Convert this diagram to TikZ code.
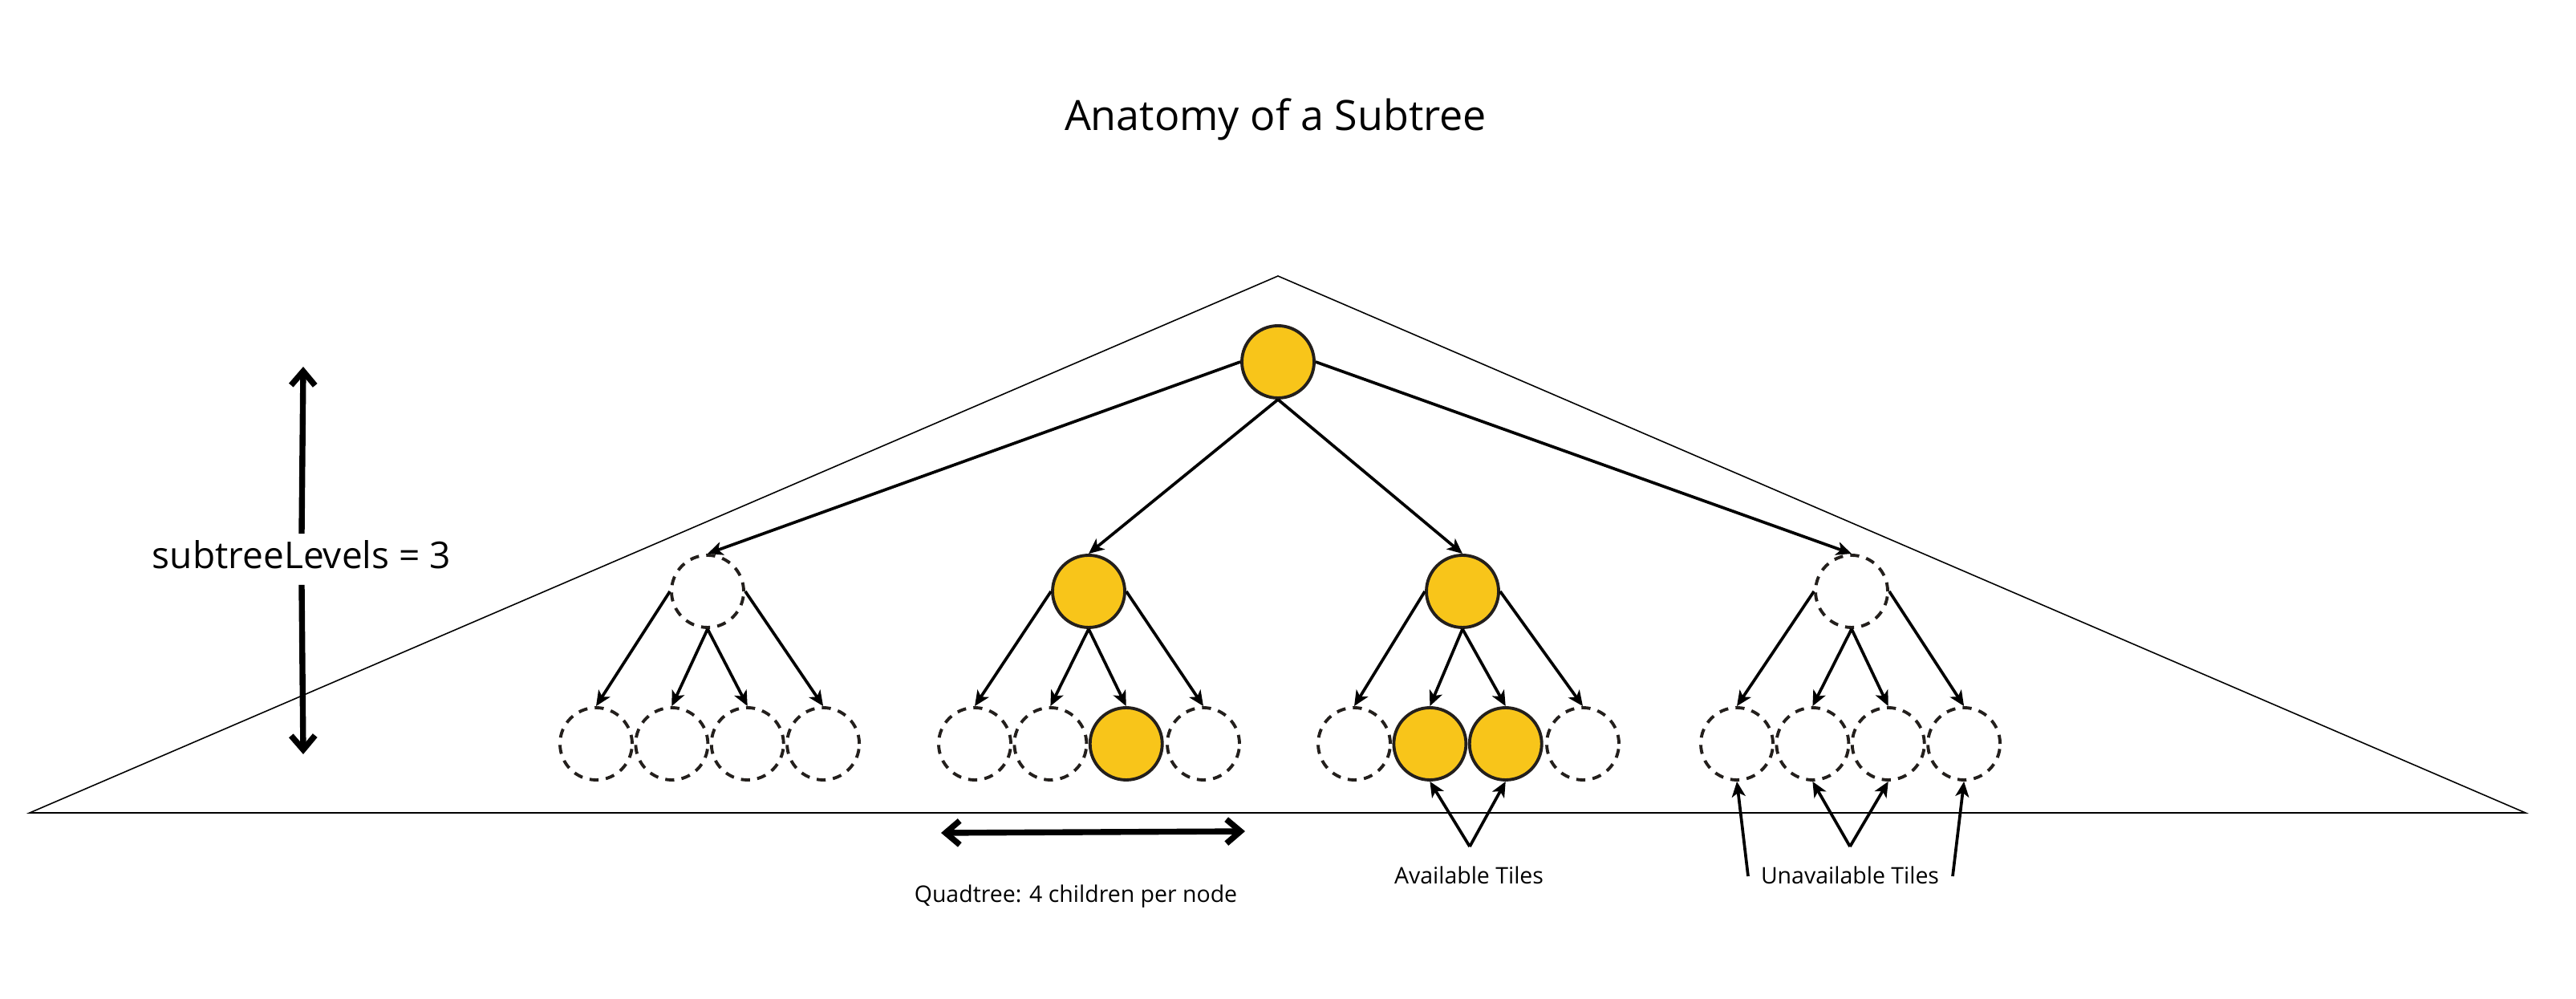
\documentclass[tikz,border=0pt]{standalone}
\usepackage{fontspec}
\setmainfont{Open Sans}
\usetikzlibrary{arrows.meta,positioning}
\definecolor{tileyellow}{HTML}{F8C51A}
\definecolor{tileline}{HTML}{231F1C}

\begin{document}
\begin{tikzpicture}[->, >={Stealth[length=5.4pt,width=4.8pt,inset=1.4pt]}, line width=1.05pt, node distance=0.005cm]
\tikzstyle{tile}=[circle,draw=tileline,fill=tileyellow,line width=1.1pt,minimum size=0.9cm,inner sep=0pt]
\tikzstyle{empty}=[circle,draw=tileline,dash pattern=on 3.2pt off 2.6pt,line width=1.1pt,minimum size=0.9cm,inner sep=0pt]
\tikzstyle{dimline}=[line width=2.1pt,line join=miter]
\tikzstyle{tilenote}=[font=\fontsize{8.1}{10}\selectfont,anchor=base,inner sep=0pt]
\useasboundingbox (0,0) rectangle (32.11,12.45);

% subtree outline
\draw[-,line width=0.45pt] (0.37,2.32) -- (15.93,9.01) -- (31.48,2.32) -- cycle;

\node[font=\fontsize{14.8}{18}\selectfont,anchor=base] (title) at (15.90,10.82) {Anatomy of a Subtree};

% levels
\node[tile]     (R)     at (15.93,7.94) {};
\node[empty]    (A)     at (8.82,5.08)  {};
\node[tile]     (B)     at (13.57,5.08) {};
\node[tile]     (C)     at (18.23,5.08) {};
\node[empty]    (D)     at (23.08,5.08) {};

\node[empty]    (A1)    at (7.43,3.18)  {};
\node[empty]    (A2)    [right=of A1]   {};
\node[empty]    (A3)    [right=of A2]   {};
\node[empty]    (A4)    [right=of A3]   {};
\node[empty]    (B1)    at (12.15,3.18) {};
\node[empty]    (B2)    [right=of B1]   {};
\node[empty]    (B4)    at (15.00,3.18) {};
\node[tile]     (B3)    [right=of B2]   {};
\node[empty]    (C1)    at (16.88,3.18) {};
\node[empty]    (C4)    at (19.73,3.18) {};
\node[tile]     (C2)    [right=of C1]   {};
\node[tile]     (C3)    [right=of C2]   {};
\node[empty]    (D1)    at (21.65,3.18) {};
\node[empty]    (D2)    [right=of D1]   {};
\node[empty]    (D3)    [right=of D2]   {};
\node[empty]    (D4)    [right=of D3]   {};

\path
(R.west)    edge (A.north)
(R.south)   edge (B.north)
            edge (C.north)
(R.east)    edge (D.north)
(A.west)    edge (A1.north)
(A.south)   edge (A2.north)
            edge (A3.north)
(A.east)    edge (A4.north)
(B.west)    edge (B1.north)
(B.south)   edge (B2.north)
            edge (B3.north)
(B.east)    edge (B4.north)
(C.west)    edge (C1.north)
(C.south)   edge (C2.north)
            edge (C3.north)
(C.east)    edge (C4.north)
(D.west)    edge (D1.north)
(D.south)   edge (D2.north)
            edge (D3.north)
(D.east)    edge (D4.north);

% subtreeLevels
\node[font=\fontsize{13.1}{15}\selectfont,anchor=base,text height=0.34cm,text depth=0.1cm,inner xsep=0pt,inner ysep=0.08cm] (levels) at (3.76,5.36) {subtreeLevels = 3};
\coordinate (levtop) at (3.78,7.88);
\coordinate (levbot) at (3.78,3.05);
\draw[dimline,-{Straight Barb[length=5pt,width=8.5pt]}] (levels.north) -- (levtop);
\draw[dimline,-{Straight Barb[length=5pt,width=8.5pt]}] (levels.south) -- (levbot);

% quadtree width
\coordinate (qleft) at (11.73,2.07);
\coordinate (qright) at (15.52,2.09);
\draw[dimline,{Straight Barb[length=5pt,width=8.5pt]}-{Straight Barb[length=5pt,width=8.5pt]}] (qleft) -- (qright);
\node[tilenote] (quad) at (13.41,1.20) {Quadtree: 4 children per node};

% tile notes
\node[tilenote] (avail) at (18.31,1.43) {Available Tiles};
\node[tilenote] (unavail) at (23.06,1.43) {Unavailable Tiles};
\coordinate (avtip) at (18.32,1.90);
\coordinate (untip) at (23.06,1.90);
\coordinate (unleft) at (21.79,1.53);
\coordinate (unright) at (24.34,1.53);
\path
(avtip)     edge (C2.south)
            edge (C3.south)
(unleft)    edge (D1.south)
(untip)     edge (D2.south)
            edge (D3.south)
(unright)   edge (D4.south);
\end{tikzpicture}
\end{document}
